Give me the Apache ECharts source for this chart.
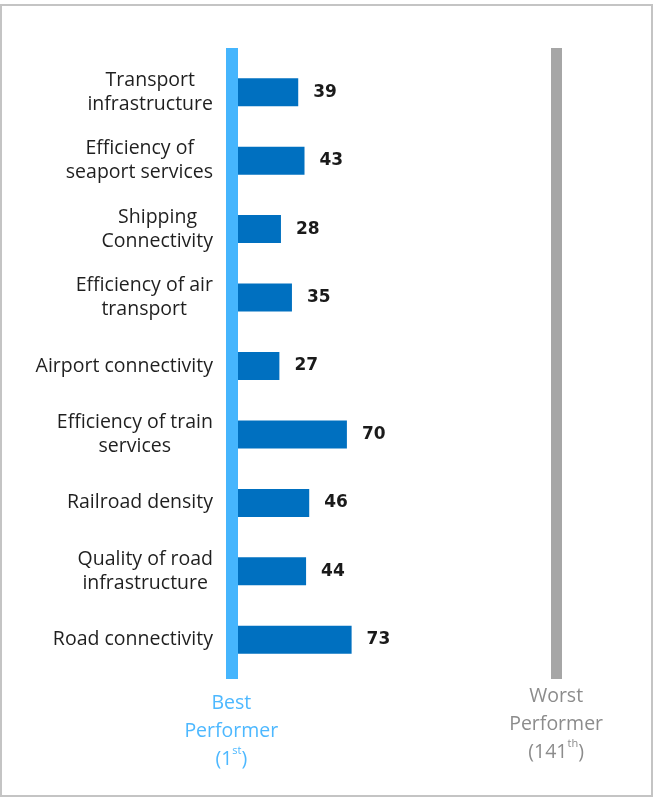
<!DOCTYPE html>
<html lang="en">
<head>
    <meta charset="UTF-8">
    <title>Transport rankings</title>
    <style>
        html, body { margin: 0; padding: 0; background: #fff; }
        #main { width: 654px; height: 798px; }
    </style>
</head>
<body>
    <div id="main"></div>
    <script src="https://cdn.jsdelivr.net/npm/echarts@6/dist/echarts.min.js"></script>
    <script>
        // pillar indicators, top to bottom
        let categories = [
            'Transport\ninfrastructure',
            'Efficiency of\nseaport services',
            'Shipping\nConnectivity',
            'Efficiency of air\ntransport',
            'Airport connectivity',
            'Efficiency of train\nservices',
            'Railroad density',
            'Quality of road\ninfrastructure',
            'Road connectivity'
        ];
        let ranks = [39, 43, 28, 35, 27, 70, 46, 44, 73];

        // reference markers (rank 1 .. rank 141)
        let bestRank = 1;
        let worstRank = 141;

        var myChart = echarts.init(document.getElementById('main'));

        let font = '"Open Sans", Roboto, sans-serif';
        let labelSize = 19.5;

        // lines of a label are centred on each other, block sits right-aligned
        let ctx = document.createElement('canvas').getContext('2d');
        ctx.font = labelSize + 'px "Open Sans"';
        let rich = {};
        categories.forEach((c, i) => {
            let lines = c.split('\n');
            let widths = lines.map(l => ctx.measureText(l).width);
            let w = Math.max(...widths);
            lines.forEach((l, j) => {
                rich['p' + i + '_' + j] = {
                    fontSize: labelSize,
                    lineHeight: 24,
                    color: '#1f1f1f',
                    fontFamily: font,
                    padding: [0, Math.round((w - widths[j]) / 2), 0, 0]
                };
            });
        });

        function supRich(color) {
            return {
                a: { fontSize: labelSize, color: color, fontFamily: font },
                s: { fontSize: 11, color: color, fontFamily: font, verticalAlign: 'top', padding: [0, 0, 10, 0] }
            };
        }

        option = {
            animation: false,
            textStyle: { fontFamily: font },
            graphic: [{
                type: 'rect',
                shape: { x: 1, y: 5, width: 651, height: 791 },
                style: { fill: 'none', stroke: '#c4c4c4', lineWidth: 2 },
                silent: true
            }],
            grid: [
                { left: 237, right: 103, top: 58, bottom: 124 },
                { left: 229, right: 77, top: 48, bottom: 119 }
            ],
            xAxis: [{
                gridIndex: 0,
                type: 'value',
                min: 0,
                max: 200,
                show: false
            }, {
                gridIndex: 1,
                type: 'value',
                min: 0,
                max: 150,
                show: false
            }],
            yAxis: [{
                gridIndex: 0,
                type: 'category',
                inverse: true,
                data: categories,
                axisLine: { show: false },
                axisTick: { show: false },
                splitLine: { show: false },
                axisLabel: {
                    margin: 24,
                    align: 'right',
                    formatter: (value, index) => value.split('\n')
                        .map((l, j) => '{p' + index + '_' + j + '|' + l + '}').join('\n'),
                    rich: rich
                }
            }, {
                gridIndex: 1,
                type: 'value',
                min: 0,
                max: 1,
                show: false
            }],
            series: [{
                type: 'bar',
                xAxisIndex: 0,
                yAxisIndex: 0,
                data: ranks,
                barWidth: 28,
                itemStyle: { color: '#0070c0' },
                label: {
                    show: true,
                    position: 'right',
                    distance: 15,
                    fontSize: 17,
                    fontWeight: 'bold',
                    fontFamily: '"DejaVu Sans", sans-serif',
                    color: '#1a1a1a'
                }
            }, {
                type: 'scatter',
                xAxisIndex: 1,
                yAxisIndex: 1,
                data: [],
                markLine: {
                    silent: true,
                    symbol: 'none',
                    data: [{
                        xAxis: bestRank,
                        lineStyle: { color: '#45b5fd', width: 12, type: 'solid' },
                        label: {
                            position: 'start',
                            distance: 10,
                            formatter: 'Best\nPerformer\n({a|1}{s|st})',
                            color: '#4db8ff',
                            fontSize: labelSize,
                            lineHeight: 28,
                            rich: supRich('#4db8ff')
                        }
                    }, {
                        xAxis: worstRank,
                        lineStyle: { color: '#a6a6a6', width: 11, type: 'solid' },
                        label: {
                            position: 'start',
                            distance: 3,
                            formatter: 'Worst\nPerformer\n({a|141}{s|th})',
                            color: '#8c8c8c',
                            fontSize: labelSize,
                            lineHeight: 28,
                            rich: supRich('#8c8c8c')
                        }
                    }]
                }
            }]
        };
        myChart.setOption(option);
    </script>
</body>
</html>
